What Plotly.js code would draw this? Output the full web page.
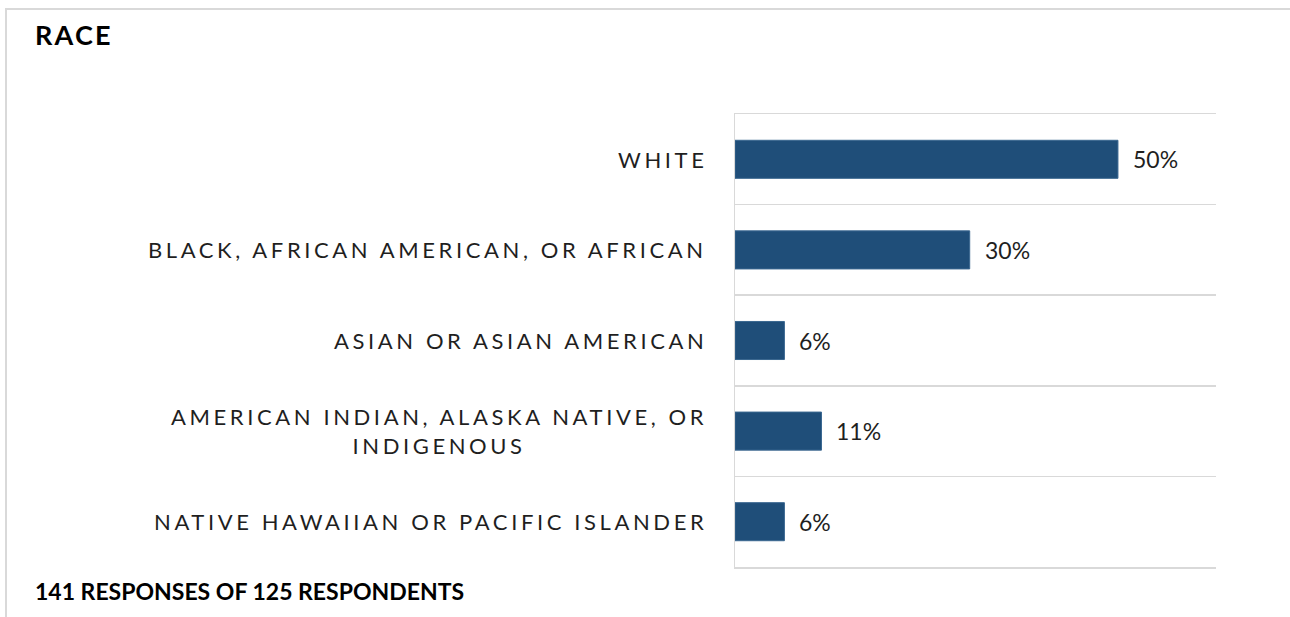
<!DOCTYPE html>
<html>
<head>
<meta charset="utf-8">
<script src="https://cdn.plot.ly/plotly-3.0.1.min.js"></script>
<style>
  html, body { margin: 0; padding: 0; background: #fff; }
  #wrap { position: relative; width: 1290px; height: 617px; }
  #chart { width: 1290px; height: 617px; }
  #frame { position: absolute; left: 5px; top: 8px; width: 1285px; height: 609px;
           border-top: 2px solid #d9d9d9; border-left: 2px solid #d9d9d9;
           box-sizing: border-box; pointer-events: none; }
</style>
</head>
<body>
<div id="wrap">
  <div id="chart"></div>
  <div id="frame"></div>
</div>
<script>
const categories = [
  "WHITE",
  "BLACK, AFRICAN AMERICAN, OR AFRICAN",
  "ASIAN OR ASIAN AMERICAN",
  "AMERICAN INDIAN, ALASKA NATIVE, OR<br>INDIGENOUS",
  "NATIVE HAWAIIAN OR PACIFIC ISLANDER"
];
const values = [49.6, 30.4, 6.4, 11.2, 6.4];
const valueLabels = ["50%", "30%", "6%", "11%", "6%"];
const titleText = "RACE";
const footerText = "141 RESPONSES OF 125 RESPONDENTS";

const fontFam = "Lato, 'Open Sans', sans-serif";

function spaced(txt, px) {
  return txt.split("<br>").map(s => '<span style="letter-spacing:' + px + 'px">' + s + '</span>').join("<br>");
}

const trace = {
  type: "bar",
  orientation: "h",
  x: values,
  y: categories,
  width: 0.42,
  marker: { color: "#1f4e79", line: { color: "#3a6790", width: 1 } },
  hoverinfo: "skip"
};

const annotations = [];
categories.forEach((c, i) => {
  annotations.push({
    xref: "paper", yref: "y", x: 0, y: c,
    xanchor: "right", yanchor: "middle", xshift: -26,
    text: spaced(c, 3.6), showarrow: false, align: "center",
    font: { family: fontFam, size: 22, color: "#1f1f1f" }
  });
  annotations.push({
    xref: "x", yref: "y", x: values[i], y: c,
    xanchor: "left", yanchor: "middle", xshift: 13,
    text: valueLabels[i], showarrow: false,
    font: { family: fontFam, size: 23, color: "#1f1f1f" }
  });
});
annotations.push({
  xref: "paper", yref: "paper", x: -1.459, y: 1.176,
  xanchor: "left", yanchor: "middle",
  text: "<b>" + spaced(titleText, 2.2) + "</b>", showarrow: false,
  font: { family: fontFam, size: 27, color: "#000" }
});
annotations.push({
  xref: "paper", yref: "paper", x: -1.459, y: -0.053,
  xanchor: "left", yanchor: "middle",
  text: "<b>" + footerText + "</b>", showarrow: false,
  font: { family: fontFam, size: 23, color: "#000" }
});

const layout = {
  width: 1290, height: 617,
  margin: { l: 735, r: 74, t: 114, b: 50, pad: 0 },
  paper_bgcolor: "#fff", plot_bgcolor: "#fff",
  showlegend: false,
  xaxis: { range: [0, 62.3], showgrid: false, zeroline: false,
           showline: true, mirror: true, linecolor: "#d9d9d9", linewidth: 1.5,
           showticklabels: false, ticks: "", fixedrange: true },
  yaxis: { type: "category", autorange: "reversed", tickson: "boundaries",
           showgrid: true, gridcolor: "#d9d9d9", gridwidth: 1.5,
           showline: true, linecolor: "#d9d9d9", linewidth: 1.5,
           showticklabels: false, ticks: "", zeroline: false, fixedrange: true },
  annotations: annotations
};

Plotly.newPlot("chart", [trace], layout, { staticPlot: true, displayModeBar: false });
</script>
</body>
</html>
